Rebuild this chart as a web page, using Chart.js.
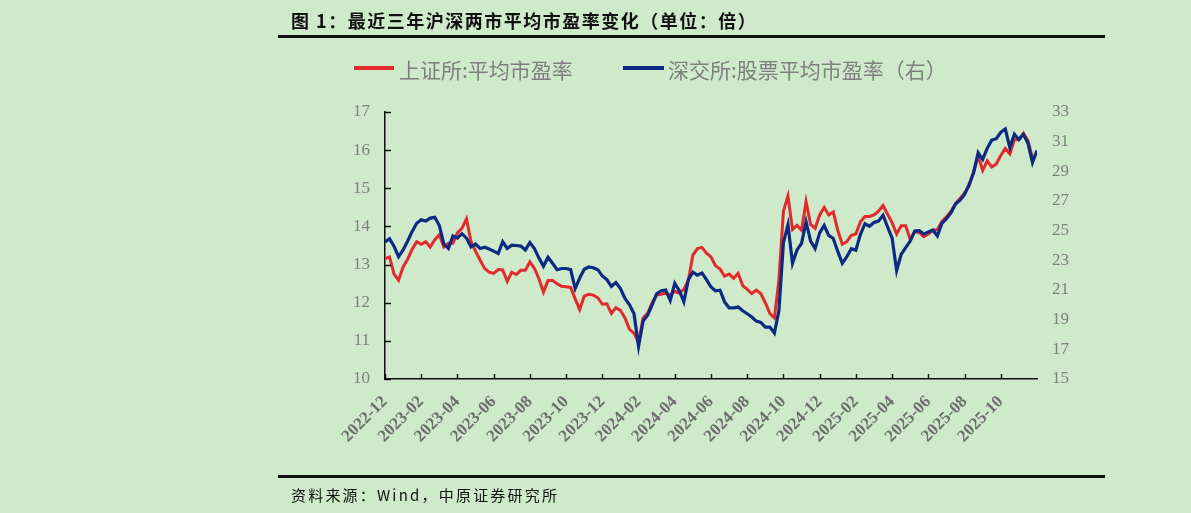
<!DOCTYPE html>
<html>
<head>
<meta charset="utf-8">
<script src="https://cdn.jsdelivr.net/npm/chart.js@4.4.1/dist/chart.umd.min.js"></script>
<style>
  html, body { margin: 0; padding: 0; background: #cfe9cb; }
  #wrap { position: relative; width: 1191px; height: 513px; overflow: hidden; background: #cfe9cb; }
  #c { position: absolute; left: 0; top: 0; }
  .abs { position: absolute; white-space: nowrap; }
  #title { left: 291px; top: 7px; font: bold 18px "Noto Sans CJK SC", sans-serif; letter-spacing: 1.5px; color: #111; }
  .rule { position: absolute; left: 278px; width: 827px; height: 3px; background: #111; }
  .lg-line { position: absolute; height: 4px; }
  .lg-text { position: absolute; top: 54px; font: 21px "Noto Sans CJK SC", sans-serif; color: #7f7f7f; }
  #src { left: 291px; top: 484px; font: 15px "Noto Sans CJK SC", sans-serif; letter-spacing: 2.2px; color: #111; }
</style>
</head>
<body>
<div id="wrap">
  <canvas id="c" width="1191" height="513"></canvas>
  <div id="title" class="abs">图 1：最近三年沪深两市平均市盈率变化（单位：倍）</div>
  <div class="rule" style="top:35px"></div>
  <div class="lg-line" style="left:354px;top:66px;width:40px;background:#e2292b"></div>
  <div class="lg-text" style="left:399px">上证所:平均市盈率</div>
  <div class="lg-line" style="left:623px;top:66px;width:41px;background:#0d2a82"></div>
  <div class="lg-text" style="left:668px">深交所:股票平均市盈率（右）</div>
  <div class="rule" style="top:475px"></div>
  <div id="src" class="abs">资料来源：Wind，中原证券研究所</div>
</div>
<script>
// x tick labels (every 2 months starting 2022-12)
const tickLabels = ['2022-12','2023-02','2023-04','2023-06','2023-08','2023-10','2023-12',
  '2024-02','2024-04','2024-06','2024-08','2024-10','2024-12','2025-02','2025-04','2025-06',
  '2025-08','2025-10'];

// weekly samples, month offset = index * 0.25 from 2022-12
const stepMonths = 0.25;

// 上证所:平均市盈率 (left axis)
const shPE = [
  13.16,13.20,12.75,12.59,12.94,13.14,13.40,13.60,13.53,13.60,
  13.46,13.65,13.78,13.46,13.56,13.56,13.83,13.95,14.20,13.60,
  13.35,13.12,12.90,12.80,12.77,12.87,12.86,12.56,12.80,12.74,
  12.85,12.85,13.07,12.90,12.63,12.28,12.58,12.58,12.50,12.43,
  12.42,12.40,12.10,11.82,12.17,12.22,12.20,12.13,11.96,11.97,
  11.72,11.87,11.80,11.60,11.30,11.20,10.95,11.60,11.72,12.00,
  12.20,12.22,12.25,12.20,12.30,12.25,12.35,12.59,13.25,13.42,
  13.45,13.30,13.20,12.97,12.88,12.70,12.75,12.64,12.77,12.45,
  12.35,12.24,12.33,12.24,12.00,11.72,11.60,12.60,14.40,14.80,
  13.92,14.03,13.90,14.65,14.05,13.95,14.30,14.50,14.30,14.38,
  13.90,13.53,13.60,13.77,13.80,14.12,14.26,14.26,14.30,14.40,
  14.55,14.32,14.10,13.80,14.02,14.02,13.66,13.86,13.84,13.73,
  13.80,13.89,13.92,14.13,14.25,14.40,14.60,14.73,14.88,15.06,
  15.44,15.85,15.47,15.72,15.56,15.64,15.86,16.04,15.90,16.27,
  16.28,16.44,16.25,15.80
];

// 深交所:股票平均市盈率 (right axis)
const szPE = [
  24.24,24.45,23.95,23.25,23.70,24.30,24.95,25.50,25.73,25.65,
  25.85,25.90,25.35,24.10,23.80,24.65,24.50,24.80,24.50,23.90,
  24.10,23.80,23.88,23.76,23.62,23.46,24.25,23.80,24.02,24.00,
  23.96,23.70,24.20,23.80,23.15,22.60,23.20,22.80,22.37,22.45,
  22.45,22.37,21.10,21.80,22.40,22.55,22.50,22.37,21.95,21.70,
  21.25,21.50,21.10,20.43,20.00,19.40,17.20,18.90,19.30,20.00,
  20.75,20.95,21.00,20.30,21.45,20.95,20.20,21.70,22.20,22.00,
  22.15,21.70,21.20,20.95,20.99,20.20,19.80,19.80,19.85,19.60,
  19.40,19.18,18.90,18.82,18.50,18.50,18.10,19.60,24.20,25.40,
  22.80,23.70,24.14,25.60,24.30,23.80,24.85,25.35,24.68,24.47,
  23.60,22.80,23.25,23.78,23.68,24.75,25.47,25.30,25.55,25.65,
  26.04,25.25,24.50,22.30,23.40,23.85,24.30,24.98,25.00,24.77,
  24.92,25.05,24.65,25.50,25.80,26.20,26.80,27.06,27.44,28.10,
  28.90,30.25,29.80,30.55,31.10,31.20,31.63,31.85,30.60,31.50,
  31.15,31.50,30.90,29.60,30.40
];

const toPts = arr => arr.map((v, i) => ({ x: i * stepMonths, y: v }));

const AXIS_COLOR = '#111';
const TICK_COLOR = '#7f7f7f';

const innerTicks = {
  id: 'innerTicks',
  afterDatasetsDraw(chart) {
    const ctx = chart.ctx;
    const ca = chart.chartArea;
    ctx.save();
    ctx.strokeStyle = AXIS_COLOR;
    ctx.lineWidth = 1.5;
    const yL = chart.scales.yL;
    yL.ticks.forEach(t => {
      const py = Math.round(yL.getPixelForValue(t.value)) + 0.5;
      ctx.beginPath();
      ctx.moveTo(ca.left, py);
      ctx.lineTo(ca.left + 6, py);
      ctx.stroke();
    });
    const xs = chart.scales.x;
    xs.ticks.forEach(t => {
      if (t.value >= xs.max) return;
      const px = Math.round(xs.getPixelForValue(t.value)) + 0.5;
      ctx.beginPath();
      ctx.moveTo(px, ca.bottom);
      ctx.lineTo(px, ca.bottom - 5);
      ctx.stroke();
    });
    ctx.restore();
  }
};

new Chart(document.getElementById('c'), {
  type: 'line',
  data: {
    datasets: [
      {
        label: '深交所:股票平均市盈率（右）',
        data: toPts(szPE),
        yAxisID: 'yR',
        borderColor: '#0d2a82',
        borderWidth: 3.2,
        pointRadius: 0,
        tension: 0,
        fill: false
      },
      {
        label: '上证所:平均市盈率',
        data: toPts(shPE),
        yAxisID: 'yL',
        borderColor: '#e2292b',
        borderWidth: 3,
        pointRadius: 0,
        tension: 0,
        fill: false
      }
    ]
  },
  options: {
    responsive: false,
    animation: false,
    devicePixelRatio: 1,
    layout: { padding: { top: 112, left: 0, right: 0, bottom: 0 } },
    plugins: { legend: { display: false }, tooltip: { enabled: false } },
    scales: {
      x: {
        type: 'linear',
        min: 0, max: 36,
        afterFit: s => { s.height = 134; },
        afterBuildTicks: s => {
          const t = [];
          for (let k = 0; k <= 18; k++) t.push({ value: k * 2 });
          s.ticks = t;
        },
        ticks: {
          autoSkip: false,
          minRotation: 45, maxRotation: 45,
          padding: 13,
          color: '#6e6e6e',
          font: { family: 'Liberation Serif', size: 17, weight: 'bold' },
          callback: v => tickLabels[v / 2] || ''
        },
        grid: { display: true, drawOnChartArea: false, drawTicks: false },
        border: { display: true, color: AXIS_COLOR, width: 1.5 }
      },
      yL: {
        position: 'left',
        min: 10, max: 17,
        afterFit: s => { s.width = 385; },
        ticks: {
          stepSize: 1,
          padding: 15,
          color: TICK_COLOR,
          font: { family: 'Liberation Serif', size: 17 }
        },
        grid: { display: true, drawOnChartArea: false, drawTicks: false },
        border: { display: true, color: AXIS_COLOR, width: 1.5 }
      },
      yR: {
        position: 'right',
        min: 15, max: 33,
        afterFit: s => { s.width = 154; },
        ticks: {
          stepSize: 2,
          padding: 15,
          color: TICK_COLOR,
          font: { family: 'Liberation Serif', size: 17 }
        },
        grid: { display: false, drawOnChartArea: false, drawTicks: false },
        border: { display: false }
      }
    }
  },
  plugins: [innerTicks]
});
</script>
</body>
</html>
